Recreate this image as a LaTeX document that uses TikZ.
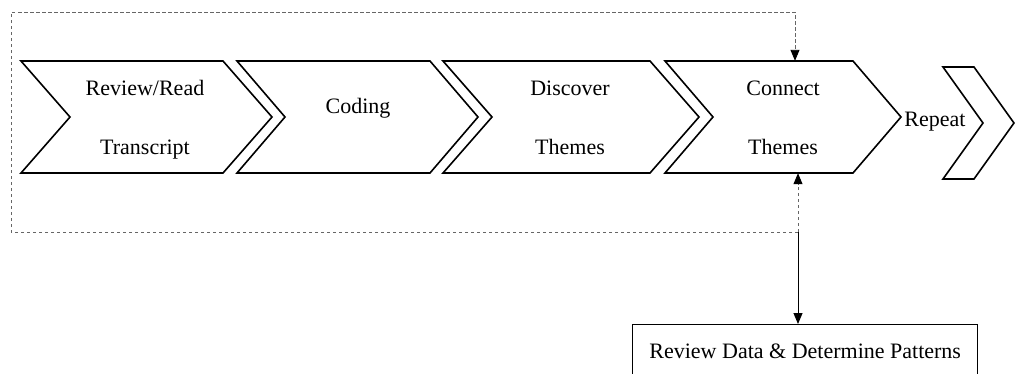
\documentclass[tikz,border=0pt]{standalone}
\usepackage{fontspec}
\setmainfont{Liberation Serif}
\usetikzlibrary{arrows.meta,fit}
\begin{document}
\begin{tikzpicture}[x=1pt,y=-1pt,
  stage/.style={draw=black,line width=1.6pt,line join=miter},
  lbl/.style={font=\fontsize{22}{26}\selectfont,inner sep=0pt,anchor=base},
  loopline/.style={draw=black!60,line width=0.9pt,dash pattern=on 3.5pt off 2.5pt},
  arr/.style={-{Triangle[length=11pt,width=9pt,color=black]}},
  resultbox/.style={draw=black,line width=1.4pt,font=\fontsize{22}{26}\selectfont,
    minimum width=345pt,minimum height=52pt,text height=15pt,text depth=0pt,inner sep=0pt}
]
\useasboundingbox (0,0) rectangle (1018,373);

% process stages drawn as chevrons
\foreach \nm/\xl/\xr/\xt in {review/21/223/272, coding/237/430/478,
                             discover/443/650/699, connect/665/853/901}{
  \draw[stage] (\xl,61) -- (\xr,61) -- (\xt,117) -- (\xr,173) -- (\xl,173)
               -- ({\xl+\xt-\xr},117) -- cycle;
  \node[fit={(\xl,61) (\xr,173)},inner sep=0pt] (\nm) {};
}

% small trailing chevron
\draw[stage] (943,67) -- (974,67) -- (1014,123) -- (974,179) -- (943,179)
             -- (983,123) -- cycle;
\node[fit={(943,67) (974,179)},inner sep=0pt] (again) {};

% stage labels
\node[lbl] (reviewA)   at (145,95)  {Review/Read};
\node[lbl] (reviewB)   at (145,154) {Transcript};
\node[lbl] (codingA)   at (358,113) {Coding};
\node[lbl] (discoverA) at (570,95)  {Discover};
\node[lbl] (discoverB) at (570,154) {Themes};
\node[lbl] (connectA)  at (783,95)  {Connect};
\node[lbl] (connectB)  at (783,154) {Themes};
\node[lbl] (repeatA)   at (935,126) {Repeat};

% pattern review box
\node[resultbox,anchor=north west] (patterns) at (632,324)
  {Review Data \& Determine Patterns};

% feedback loop around the stages
\coordinate (join)  at (798,232);
\coordinate (lowL)  at (11,232);
\coordinate (topL)  at (11,12);
\coordinate (topR)  at (795,12);
\draw[loopline,arr] (join) -- (lowL) -- (topL) -- (topR) -- (topR |- connect.north);
\draw[loopline,arr] (join) -- (join |- connect.south);
\draw[black,line width=1pt,arr] (join) -- (join |- patterns.north);
\end{tikzpicture}
\end{document}
